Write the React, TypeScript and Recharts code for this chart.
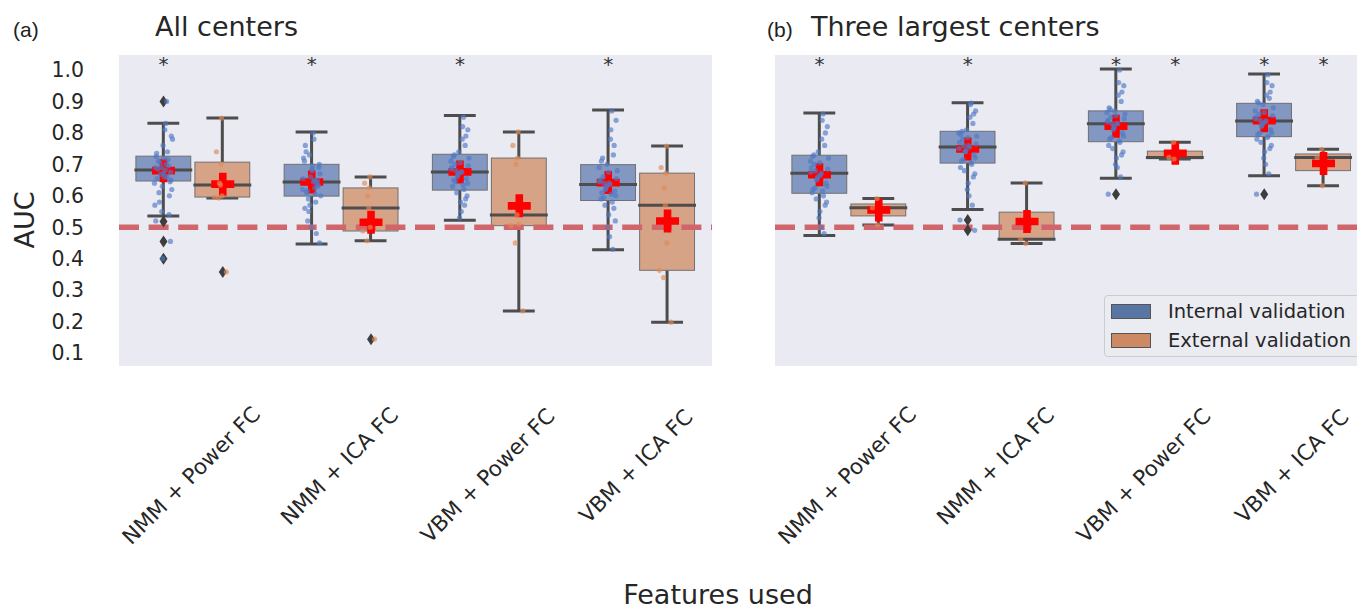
import { ComposedChart, Bar, Scatter, XAxis, YAxis, ReferenceLine, CartesianGrid } from 'recharts';

const categories = ['NMM + Power FC', 'NMM + ICA FC', 'VBM + Power FC', 'VBM + ICA FC'];
const yTicks = [0.1, 0.2, 0.3, 0.4, 0.5, 0.6, 0.7, 0.8, 0.9, 1.0];
const seriesNames = ['Internal validation', 'External validation'];
const chance = 0.5;

// (a) All centers - internal validation
const aIntLow = [0.536, 0.447, 0.522, 0.428];
const aIntQ1 = [0.647, 0.599, 0.618, 0.585];
const aIntMed = [0.682, 0.644, 0.676, 0.636];
const aIntQ3 = [0.726, 0.7, 0.732, 0.699];
const aIntHigh = [0.831, 0.803, 0.855, 0.873];
const aIntMean = [0.68, 0.644, 0.676, 0.642];
const aIntOut = [[0.9, 0.518, 0.455, 0.4], [], [], []];
const aIntSig = [true, true, true, true];
const aIntPts = [
  [0.682, 0.71, 0.65, 0.63, 0.74, 0.69, 0.6, 0.668, 0.72, 0.78, 0.655, 0.7, 0.58, 0.675, 0.64, 0.81, 0.695, 0.55, 0.725, 0.66, 0.62, 0.76, 0.685, 0.645, 0.705, 0.83, 0.57, 0.715, 0.672, 0.61, 0.79, 0.69, 0.54, 0.735, 0.66, 0.9, 0.52, 0.455, 0.4],
  [0.644, 0.61, 0.7, 0.66, 0.58, 0.72, 0.63, 0.55, 0.68, 0.6, 0.76, 0.65, 0.52, 0.69, 0.62, 0.8, 0.64, 0.57, 0.71, 0.605, 0.67, 0.5, 0.74, 0.635, 0.59, 0.78, 0.655, 0.48, 0.685, 0.615, 0.45, 0.73, 0.65, 0.56, 0.695, 0.625],
  [0.676, 0.7, 0.64, 0.74, 0.62, 0.69, 0.79, 0.66, 0.58, 0.72, 0.65, 0.82, 0.68, 0.6, 0.71, 0.55, 0.76, 0.67, 0.63, 0.85, 0.695, 0.53, 0.73, 0.655, 0.61, 0.78, 0.685, 0.57, 0.705, 0.645, 0.81, 0.665, 0.59, 0.725, 0.675, 0.635],
  [0.636, 0.66, 0.6, 0.7, 0.58, 0.65, 0.76, 0.62, 0.54, 0.68, 0.61, 0.81, 0.64, 0.52, 0.69, 0.47, 0.73, 0.63, 0.59, 0.87, 0.655, 0.5, 0.72, 0.615, 0.57, 0.78, 0.645, 0.43, 0.675, 0.595, 0.84, 0.625, 0.56, 0.71, 0.64, 0.605],
];

// (a) All centers - external validation
const aExtLow = [0.593, 0.457, 0.234, 0.198];
const aExtQ1 = [0.596, 0.488, 0.505, 0.363];
const aExtMed = [0.634, 0.561, 0.539, 0.57];
const aExtQ3 = [0.707, 0.625, 0.72, 0.672];
const aExtHigh = [0.847, 0.66, 0.803, 0.758];
const aExtMean = [0.637, 0.516, 0.568, 0.52];
const aExtOut = [[0.358], [0.144], [], []];
const aExtSig = [false, false, false, false];
const aExtPts = [
  [0.847, 0.74, 0.7, 0.64, 0.634, 0.6, 0.595, 0.593, 0.358],
  [0.66, 0.64, 0.625, 0.6, 0.561, 0.5, 0.488, 0.457, 0.144],
  [0.803, 0.76, 0.72, 0.7, 0.539, 0.51, 0.505, 0.45, 0.234],
  [0.758, 0.69, 0.672, 0.625, 0.57, 0.45, 0.363, 0.34, 0.198],
];

// (b) Three largest centers - internal validation
const bIntLow = [0.474, 0.556, 0.656, 0.664];
const bIntQ1 = [0.608, 0.704, 0.772, 0.788];
const bIntMed = [0.672, 0.755, 0.829, 0.838];
const bIntQ3 = [0.729, 0.805, 0.87, 0.894];
const bIntHigh = [0.863, 0.896, 1.003, 0.987];
const bIntMean = [0.667, 0.749, 0.821, 0.839];
const bIntOut = [[], [0.523, 0.49], [0.605], [0.605]];
const bIntSig = [true, true, true, true];
const bIntPts = [
  [0.672, 0.7, 0.63, 0.74, 0.6, 0.69, 0.8, 0.65, 0.55, 0.72, 0.62, 0.84, 0.68, 0.58, 0.71, 0.5, 0.76, 0.66, 0.61, 0.86, 0.685, 0.53, 0.73, 0.64, 0.59, 0.78, 0.675, 0.48, 0.705, 0.625, 0.82, 0.655, 0.57, 0.725, 0.665, 0.615],
  [0.755, 0.78, 0.72, 0.81, 0.7, 0.77, 0.86, 0.74, 0.64, 0.79, 0.71, 0.89, 0.76, 0.67, 0.8, 0.6, 0.83, 0.745, 0.69, 0.895, 0.765, 0.62, 0.805, 0.73, 0.68, 0.85, 0.75, 0.57, 0.785, 0.715, 0.87, 0.74, 0.66, 0.795, 0.76, 0.705, 0.523, 0.49],
  [0.829, 0.85, 0.79, 0.87, 0.77, 0.84, 0.93, 0.81, 0.72, 0.86, 0.78, 0.96, 0.83, 0.74, 0.865, 0.69, 0.9, 0.82, 0.76, 1.0, 0.845, 0.7, 0.875, 0.8, 0.75, 0.92, 0.835, 0.66, 0.855, 0.785, 0.95, 0.815, 0.73, 0.88, 0.83, 0.775, 0.605],
  [0.838, 0.86, 0.8, 0.89, 0.79, 0.85, 0.93, 0.82, 0.74, 0.88, 0.795, 0.96, 0.84, 0.76, 0.87, 0.7, 0.91, 0.83, 0.78, 0.985, 0.855, 0.72, 0.895, 0.81, 0.77, 0.92, 0.845, 0.67, 0.865, 0.8, 0.95, 0.825, 0.75, 0.9, 0.835, 0.785, 0.605],
];

// (b) Three largest centers - external validation
const bExtLow = [0.507, 0.448, 0.717, 0.632];
const bExtQ1 = [0.536, 0.462, 0.718, 0.68];
const bExtMed = [0.562, 0.462, 0.722, 0.722];
const bExtQ3 = [0.574, 0.548, 0.742, 0.733];
const bExtHigh = [0.591, 0.641, 0.77, 0.748];
const bExtMean = [0.555, 0.518, 0.735, 0.703];
const bExtOut = [[], [], [], []];
const bExtSig = [false, false, true, true];
const bExtPts = [
  [0.507, 0.562, 0.591],
  [0.448, 0.462, 0.641],
  [0.717, 0.722, 0.77],
  [0.632, 0.722, 0.748],
];

// stripplot jitter (fraction of a category band)
const JITTER = [0.012, -0.034, 0.051, -0.008, 0.027, -0.055, 0.04, -0.019, 0.003, 0.061, -0.043, 0.018, -0.027, 0.048, -0.061, 0.009, 0.035, -0.012, -0.049, 0.024, 0.056, -0.003, -0.038, 0.044, -0.022, 0.015, -0.058, 0.031, 0.001, -0.03, 0.053, -0.015, 0.038, -0.046, 0.006, 0.021, -0.052, 0.047, -0.005, 0.029];

const DODGE = 0.2;
const STAR_Y = 1.035;
const Y_DOMAIN: [number, number] = [0.0587, 1.0477];
const FONT = "'DejaVu Sans', sans-serif";
const TEXT = '#262626';
const LINE = '#4d4d4d';

type Group = {
  low: number[]; q1: number[]; med: number[]; q3: number[]; high: number[]; mean: number[];
  out: number[][]; pts: number[][]; sig: boolean[];
};

const aInt: Group = { low: aIntLow, q1: aIntQ1, med: aIntMed, q3: aIntQ3, high: aIntHigh, mean: aIntMean, out: aIntOut, pts: aIntPts, sig: aIntSig };
const aExt: Group = { low: aExtLow, q1: aExtQ1, med: aExtMed, q3: aExtQ3, high: aExtHigh, mean: aExtMean, out: aExtOut, pts: aExtPts, sig: aExtSig };
const bInt: Group = { low: bIntLow, q1: bIntQ1, med: bIntMed, q3: bIntQ3, high: bIntHigh, mean: bIntMean, out: bIntOut, pts: bIntPts, sig: bIntSig };
const bExt: Group = { low: bExtLow, q1: bExtQ1, med: bExtMed, q3: bExtQ3, high: bExtHigh, mean: bExtMean, out: bExtOut, pts: bExtPts, sig: bExtSig };

const stat = (g: Group, i: number) => ({ low: g.low[i], q1: g.q1[i], med: g.med[i], q3: g.q3[i], high: g.high[i] });

const rangeOf = (key: 'int' | 'ext') => (d: any) => (d && d[key] ? [d[key].low, d[key].high] : null);

function makeBox(key: 'int' | 'ext', fill: string) {
  return (props: any) => {
    const { x, y, width, height, payload } = props;
    const s = payload && payload[key];
    if (!s) return <g />;
    const top = Math.min(y, y + height);
    const bottom = Math.max(y, y + height);
    const k = (bottom - top) / (s.high - s.low);
    const Y = (v: number) => top + (s.high - v) * k;
    const cx = x + width / 2;
    const bw = width * 0.93;
    const cap = width * 0.27;
    return (
      <g>
        <line x1={cx} x2={cx} y1={Y(s.high)} y2={Y(s.q3)} stroke={LINE} strokeWidth={3} />
        <line x1={cx} x2={cx} y1={Y(s.q1)} y2={Y(s.low)} stroke={LINE} strokeWidth={3} />
        <line x1={cx - cap} x2={cx + cap} y1={Y(s.high)} y2={Y(s.high)} stroke={LINE} strokeWidth={3} />
        <line x1={cx - cap} x2={cx + cap} y1={Y(s.low)} y2={Y(s.low)} stroke={LINE} strokeWidth={3} />
        <rect x={cx - bw / 2} y={Y(s.q3)} width={bw} height={Math.max(Y(s.q1) - Y(s.q3), 0.5)} fill={fill} stroke="#707070" strokeWidth={1} />
        <line x1={cx - bw / 2 - 1.5} x2={cx + bw / 2 + 1.5} y1={Y(s.med)} y2={Y(s.med)} stroke={LINE} strokeWidth={3} />
      </g>
    );
  };
}

const Plus = (p: any) => {
  const { cx, cy } = p;
  const a = 11.5;
  const t = 3.8;
  const d = `M${cx - t},${cy - a}h${2 * t}v${a - t}h${a - t}v${2 * t}h${-(a - t)}v${a - t}h${-2 * t}v${-(a - t)}h${-(a - t)}v${-2 * t}h${a - t}z`;
  return <path d={d} fill="#ff0000" />;
};

const Diamond = (p: any) => {
  const { cx, cy } = p;
  return <path d={`M${cx},${cy - 6}L${cx + 4},${cy}L${cx},${cy + 6}L${cx - 4},${cy}Z`} fill="#3d3d3d" />;
};

const dot = (color: string) => (p: any) => <circle cx={p.cx} cy={p.cy} r={2.6} fill={color} fillOpacity={0.65} />;

const Star = (p: any) => (
  <text x={p.cx} y={p.cy + 12.4} textAnchor="middle" fontSize={20} fontFamily={FONT} fill="#333333">*</text>
);

const RotTick = (props: any) => {
  const { x, y, payload } = props;
  const label = String(payload.value);
  const len = label.length * 13.1;
  const cy = y + 34 + (len + 24) * 0.3535;
  return (
    <text x={x - 2} y={cy} transform={`rotate(-45 ${x - 2} ${cy})`} textAnchor="middle" dominantBaseline="central" fontSize={21.5} fontFamily={FONT} fill={TEXT}>
      {label}
    </text>
  );
};

function Panel({ int, ext, width, left, right, showY }: { int: Group; ext: Group; width: number; left: number; right: number; showY: boolean }) {
  const rows = categories.map((cat, i) => ({ cat, int: stat(int, i), ext: stat(ext, i) }));
  const means = categories.flatMap((_, i) => [{ x: i - DODGE, y: int.mean[i] }, { x: i + DODGE, y: ext.mean[i] }]);
  const outs = categories.flatMap((_, i) => [
    ...int.out[i].map((v) => ({ x: i - DODGE, y: v })),
    ...ext.out[i].map((v) => ({ x: i + DODGE, y: v })),
  ]);
  const intPts = int.pts.flatMap((arr, i) => arr.map((v, k) => ({ x: i - DODGE + JITTER[k % JITTER.length], y: v })));
  const extPts = ext.pts.flatMap((arr, i) => arr.map((v, k) => ({ x: i + DODGE + JITTER[(k * 7 + 3) % JITTER.length], y: v })));
  const stars = categories.flatMap((_, i) => [
    ...(int.sig[i] ? [{ x: i - DODGE, y: STAR_Y }] : []),
    ...(ext.sig[i] ? [{ x: i + DODGE, y: STAR_Y }] : []),
  ]);

  return (
    <ComposedChart width={width} height={610} data={rows} margin={{ top: 55, right, bottom: 0, left }} barCategoryGap="10%" barGap={0}>
      <CartesianGrid fill="#eaeaf2" horizontal={false} vertical={false} stroke="none" />
      <XAxis dataKey="cat" type="category" height={244} axisLine={false} tickLine={false} tickSize={0} tick={<RotTick />} interval={0} />
      <XAxis xAxisId="n" dataKey="x" type="number" domain={[-0.5, 3.5]} allowDataOverflow hide />
      <YAxis
        type="number"
        domain={Y_DOMAIN}
        allowDataOverflow
        ticks={yTicks}
        hide={!showY}
        width={119}
        axisLine={false}
        tickLine={false}
        tickSize={0}
        tickMargin={35}
        tickFormatter={(v: number) => v.toFixed(1)}
        tick={{ fill: TEXT, fontSize: 20.5, fontFamily: FONT }}
      />
      <Bar name={seriesNames[0]} dataKey={rangeOf('int')} fill="#5975a4" shape={makeBox('int', '#8297c1')} isAnimationActive={false} />
      <Bar name={seriesNames[1]} dataKey={rangeOf('ext')} fill="#cc8963" shape={makeBox('ext', '#d7a386')} isAnimationActive={false} />
      <ReferenceLine y={chance} stroke="#d0666b" strokeWidth={5.5} strokeDasharray="20 9.6" />
      <Scatter xAxisId="n" data={outs} dataKey="y" shape={Diamond} isAnimationActive={false} legendType="none" />
      <Scatter xAxisId="n" data={means} dataKey="y" shape={Plus} isAnimationActive={false} legendType="none" />
      <Scatter xAxisId="n" data={intPts} dataKey="y" shape={dot('#4f78c4')} isAnimationActive={false} legendType="none" />
      <Scatter xAxisId="n" data={extPts} dataKey="y" shape={dot('#e08a55')} isAnimationActive={false} legendType="none" />
      <Scatter xAxisId="n" data={stars} dataKey="y" shape={Star} isAnimationActive={false} legendType="none" />
    </ComposedChart>
  );
}

export default function App() {
  return (
    <div style={{ position: 'absolute', left: 0, top: 0, width: 1357, height: 610, overflow: 'hidden', background: '#ffffff', fontFamily: FONT }}>
      <div style={{ position: 'absolute', left: 0, top: 0 }}>
        <Panel int={aInt} ext={aExt} width={730} left={0} right={18} showY />
      </div>
      <div style={{ position: 'absolute', left: 715, top: 0 }}>
        <Panel int={bInt} ext={bExt} width={660} left={60} right={7} showY={false} />
      </div>
      <svg width={1357} height={610} style={{ position: 'absolute', left: 0, top: 0, pointerEvents: 'none' }}>
        <text x={13} y={37} fontSize={21} fontFamily="'Liberation Sans', Arial, sans-serif" fill="#222222">(a)</text>
        <text x={155} y={36} fontSize={27} fontFamily={FONT} fill={TEXT}>All centers</text>
        <text x={767} y={37} fontSize={21} fontFamily="'Liberation Sans', Arial, sans-serif" fill="#222222">(b)</text>
        <text x={811} y={36} fontSize={27} fontFamily={FONT} fill={TEXT}>Three largest centers</text>
        <text x={24} y={220} transform="rotate(-90 24 220)" textAnchor="middle" dominantBaseline="central" fontSize={27} fontFamily={FONT} fill={TEXT}>AUC</text>
        <text x={718} y={604} textAnchor="middle" fontSize={27} fontFamily={FONT} fill={TEXT}>Features used</text>
      </svg>
      <div style={{ position: 'absolute', left: 1104, top: 295, width: 270, height: 62, background: '#ebebf2', border: '1px solid #cccccc', borderRadius: 4, boxSizing: 'border-box' }}>
        {seriesNames.map((name, i) => (
          <div key={name} style={{ position: 'absolute', left: 6, top: 7 + i * 29, height: 16, display: 'flex', alignItems: 'center' }}>
            <div style={{ width: 40, height: 15, background: i === 0 ? '#5975a4' : '#cc8963', border: '1px solid #555555', boxSizing: 'border-box' }} />
            <span style={{ marginLeft: 17, fontSize: 19.5, color: TEXT, whiteSpace: 'nowrap' }}>{name}</span>
          </div>
        ))}
      </div>
    </div>
  );
}
